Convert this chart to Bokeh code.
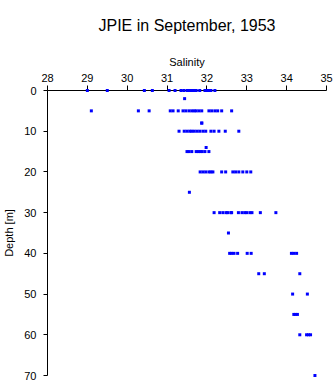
from bokeh.plotting import figure
from bokeh.models import Range1d, FixedTicker, ColumnDataSource
from bokeh.embed import file_html
from bokeh.resources import INLINE

# Salinity readings grouped by sampling depth [m]
sal_0m = [29.0, 29.5, 30.43, 30.63, 31.05, 31.2, 31.35, 31.42, 31.5, 31.55, 31.6,
          31.65, 31.7, 31.73, 31.82, 31.95, 32.0, 32.05, 32.1, 32.2]
sal_2m = [31.44]
sal_5m = [29.1, 30.28, 30.55, 31.08, 31.15, 31.28, 31.4, 31.47, 31.55, 31.62, 31.68,
          31.73, 31.8, 31.87, 32.05, 32.12, 32.2, 32.27, 32.37, 32.62]
sal_8m = [31.87, 31.87]
sal_10m = [31.3, 31.43, 31.5, 31.57, 31.62, 31.68, 31.75, 31.82, 31.9, 31.97, 32.1,
           32.18, 32.3, 32.46, 32.8]
sal_14m = [31.98]
sal_15m = [31.5, 31.55, 31.62, 31.73, 31.78, 31.83, 31.88, 31.95, 32.05]
sal_20m = [31.83, 31.9, 31.97, 32.05, 32.1, 32.15, 32.37, 32.47, 32.65, 32.72, 32.8,
           32.9, 33.0, 33.1]
sal_25m = [31.56]
sal_30m = [32.18, 32.32, 32.4, 32.48, 32.52, 32.6, 32.62, 32.79, 32.88, 32.95, 33.0,
           33.08, 33.13, 33.34, 33.73]
sal_35m = [32.54]
sal_40m = [32.57, 32.62, 32.68, 32.77, 33.01, 33.11, 34.12, 34.18, 34.25]
sal_45m = [33.3, 33.44, 34.33]
sal_50m = [34.15, 34.52]
sal_55m = [34.18, 34.22, 34.27]
sal_60m = [34.33, 34.5, 34.55, 34.6]
sal_70m = [34.71]

levels = [0, 2, 5, 8, 10, 14, 15, 20, 25, 30, 35, 40, 45, 50, 55, 60, 70]
groups = [sal_0m, sal_2m, sal_5m, sal_8m, sal_10m, sal_14m, sal_15m, sal_20m, sal_25m,
          sal_30m, sal_35m, sal_40m, sal_45m, sal_50m, sal_55m, sal_60m, sal_70m]

x_ticks = [28, 29, 30, 31, 32, 33, 34, 35]
y_ticks = [0, 10, 20, 30, 40, 50, 60, 70]

salinity = []
depth = []
for d, g in zip(levels, groups):
    for s in g:
        salinity.append(s)
        depth.append(d)

src = ColumnDataSource(dict(salinity=salinity, depth=depth))

FONT = "Liberation Sans"

p = figure(width=335, height=384,
           x_range=Range1d(28, 35), y_range=Range1d(70, 0),
           x_axis_location="above",
           toolbar_location=None, output_backend="svg",
           min_border_left=42, min_border_right=9,
           min_border_top=90, min_border_bottom=9,
           title="JPIE in September, 1953")

p.title.align = "center"
p.title.vertical_align = "top"
p.title.text_font = FONT
p.title.text_font_size = "16px"
p.title.text_font_style = "normal"
p.title.text_color = "black"
p.title.text_line_height = 1.0
p.title.standoff = 33

p.outline_line_color = None
p.xgrid.grid_line_color = None
p.ygrid.grid_line_color = None

r = p.scatter("salinity", "depth", source=src, marker="square", size=3,
              fill_color="#0000ff", line_color=None)
r.level = "overlay"

xa = p.xaxis[0]
xa.axis_label = "Salinity"
xa.ticker = FixedTicker(ticks=x_ticks)
ya = p.yaxis[0]
ya.axis_label = "Depth [m]"
ya.ticker = FixedTicker(ticks=y_ticks)

for ax in (xa, ya):
    ax.axis_line_color = "black"
    ax.major_tick_line_color = "black"
    ax.minor_tick_line_color = None
    ax.major_tick_in = 0
    ax.major_label_text_font = FONT
    ax.major_label_text_font_size = "11px"
    ax.major_label_text_color = "black"
    ax.axis_label_text_font = FONT
    ax.axis_label_text_font_size = "11px"
    ax.axis_label_text_font_style = "normal"
    ax.axis_label_text_color = "black"

xa.major_tick_out = 5
xa.major_label_standoff = 4
xa.axis_label_standoff = 3
ya.major_tick_out = 4
ya.major_label_standoff = 7
ya.axis_label_standoff = 6

open("out.html", "w").write(file_html(p, INLINE))
